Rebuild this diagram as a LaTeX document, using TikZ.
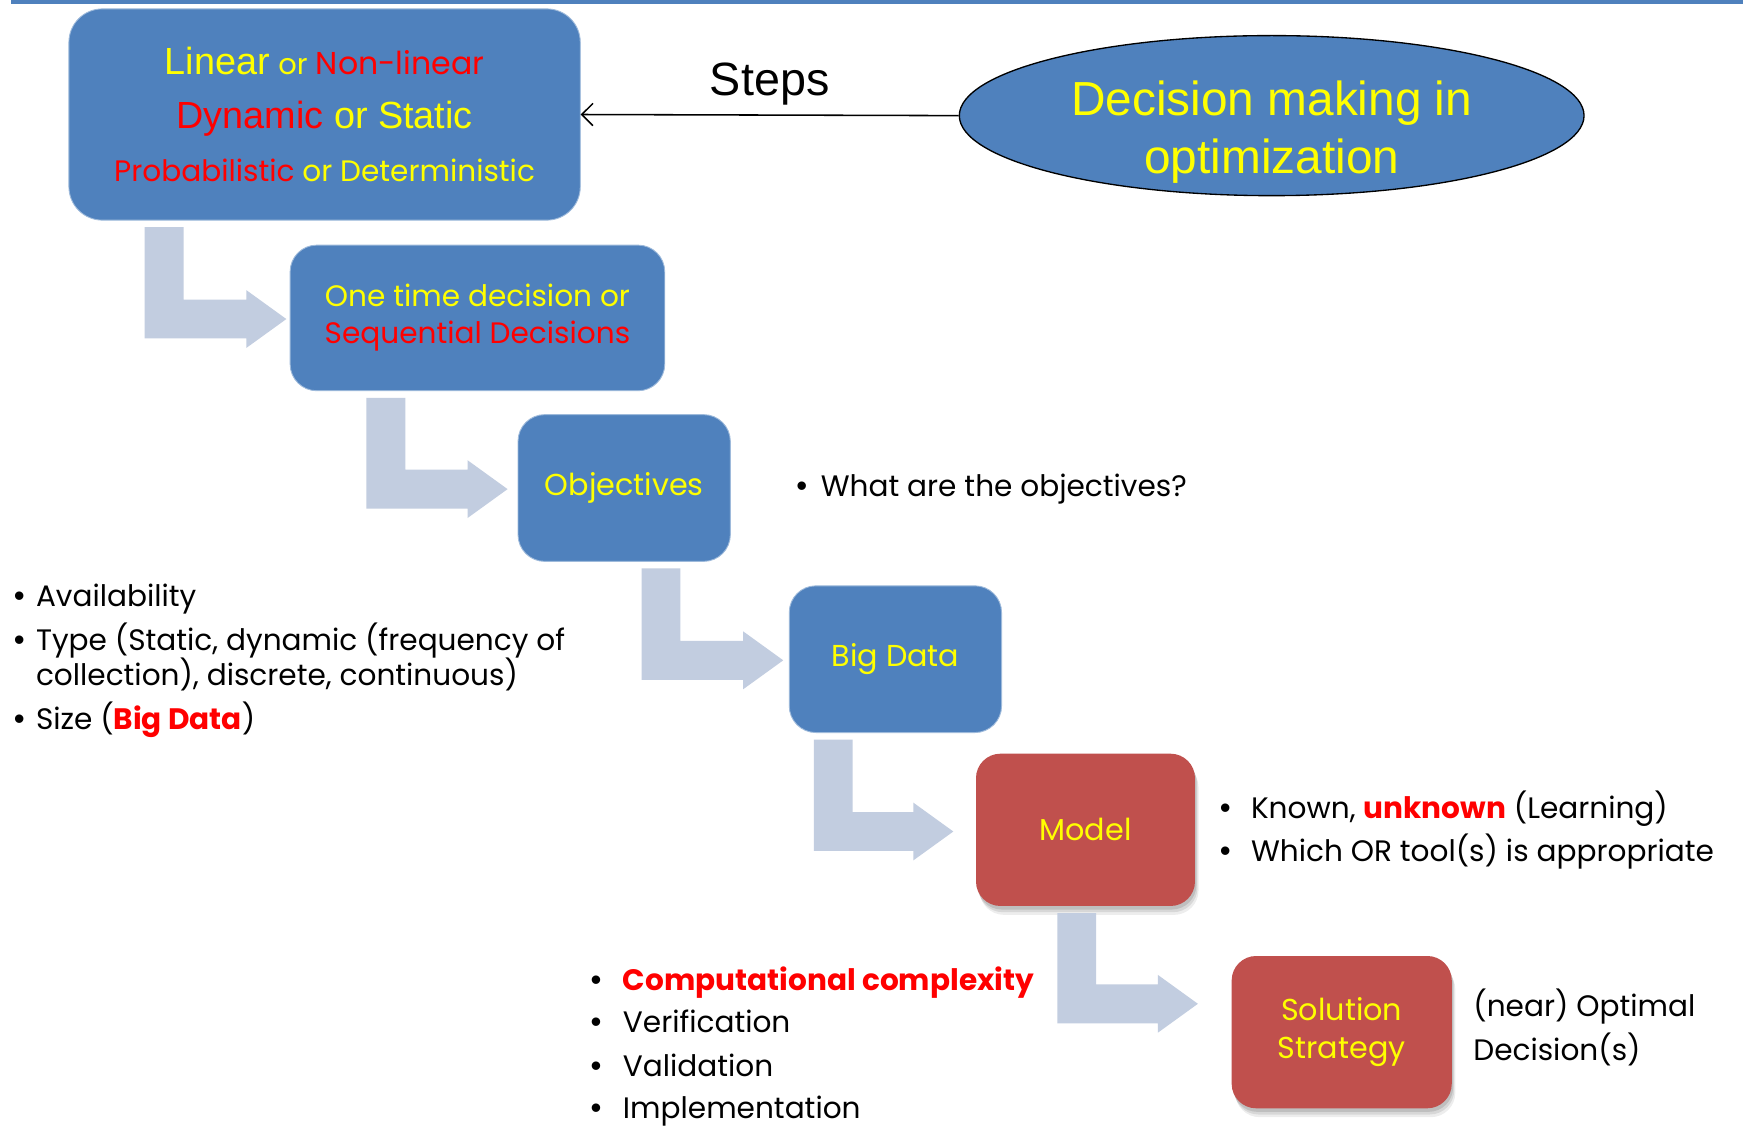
\documentclass[tikz,border=0pt]{standalone}
\usepackage{fontspec}
\setmainfont{Poppins}
\newfontfamily\arialfont{Liberation Sans}
\usetikzlibrary{shapes.geometric,arrows.meta,calc}

\definecolor{boxblue}{HTML}{4F81BD}
\definecolor{boxred}{HTML}{C0504D}
\definecolor{flowgray}{HTML}{C2CDE0}
\definecolor{txtyellow}{HTML}{FFFF00}
\definecolor{txtred}{HTML}{FF0000}

\newcommand\fsz[2]{\fontsize{#1}{#2}\selectfont}
% list bullet, slightly heavier than the text font's own
\newcommand\itemdot[1]{\makebox[#1][l]{\arialfont\fsz{14}{16}•}}

\tikzset{
  bluebox/.style={fill=boxblue, draw=boxblue!55!white, line width=0.4pt,
    rounded corners=12pt, align=center, inner sep=0pt},
  redbox/.style={fill=boxred, draw=none, rounded corners=11pt, align=center,
    inner sep=0pt,
    preaction={fill=black, opacity=0.07, transform canvas={xshift=1.6pt, yshift=-4pt}},
    preaction={fill=black, opacity=0.09, transform canvas={xshift=1.1pt, yshift=-2.8pt}},
    preaction={fill=black, opacity=0.11, transform canvas={xshift=0.6pt, yshift=-1.6pt}}},
  flow/.style={fill=flowgray, draw=none},
  boxtext/.style={font=\fsz{13.6}{17}},
  note/.style={anchor=base west, inner sep=0pt, font=\fsz{13.3}{16}},
}

% L-shaped block arrow: down from the source box, then right to the target box
% #1 source, #2 target, #3 stem x offset from source south west,
% #4 gap before target, #5 vertical offset of the tip from the target centre
\newcommand\bentflow[5]{%
  \coordinate (#1-stem) at ($(#1.south west)+(#3,6)$);
  \coordinate (#1-tip) at ($(#2.west)+(-#4,#5)$);
  \fill[flow] let \p1=(#1-stem), \p2=(#1-tip) in
    (\x1-8.75pt,\y1) -- (\x1+8.75pt,\y1) -- (\x1+8.75pt,\y2+8.75pt)
    -- (\x2-18pt,\y2+8.75pt) -- (\x2-18pt,\y2+13pt) -- (\x2,\y2)
    -- (\x2-18pt,\y2-13pt) -- (\x2-18pt,\y2-8.75pt)
    -- (\x1-8.75pt,\y2-8.75pt) -- cycle;
}

\begin{document}
\begin{tikzpicture}[x=0.5pt,y=-0.5pt]
  \useasboundingbox (0,0) rectangle (1568,1014);
  \fill[white] (0,0) rectangle (1568,1014);
  % rule along the top edge
  \fill[boxblue] (10,0) rectangle (1568,3.5);

  % boxes of the chain
  \node[bluebox, minimum width=230pt, minimum height=95pt, rounded corners=15pt,
        font=\fsz{14}{24}] (box1) at (292,103)
    {{\arialfont\fsz{17}{24}\color{txtyellow}Linear} {\fsz{13}{24}\color{txtyellow}or}
     {\fsz{14.2}{24}\color{txtred}Non-linear}\\
     {\arialfont\fsz{17}{24}\color{txtred}Dynamic \color{txtyellow}or Static}\\
     {\fsz{13.3}{24}\color{txtred}Probabilistic \color{txtyellow}or Deterministic}};

  \node[bluebox, boxtext, minimum width=168.5pt, minimum height=65.5pt,
        font=\fsz{13.3}{16.5}] (box2) at (429.5,286)
    {\color{txtyellow}One time decision or\\\color{txtred}Sequential Decisions};

  \node[bluebox, boxtext, minimum width=95.5pt, minimum height=66pt,
        text=txtyellow] (box3) at (561.5,439) {\raisebox{-1.5pt}{Objectives}};

  \node[bluebox, boxtext, minimum width=95.5pt, minimum height=66pt,
        text=txtyellow] (box4) at (805.5,593) {\raisebox{-1.5pt}{Big Data}};

  \node[redbox, boxtext, minimum width=98.5pt, minimum height=68.5pt,
        text=txtyellow] (box5) at (976.5,746.5) {Model};

  \node[redbox, boxtext, minimum width=99pt, minimum height=68.5pt,
        text=txtyellow] (box6) at (1207,928.5) {Solution\\Strategy};

  % title ellipse and the arrow into the first step
  \node[ellipse, fill=boxblue, draw=black, line width=0.6pt, minimum width=281pt,
        minimum height=72pt, inner sep=0pt,
        label={[yshift=-7.5pt, align=center, font=\arialfont\fsz{21.5}{26},
                text=txtyellow]center:Decision making in\\optimization}]
    (goal) at (1144,104) {};

  \draw[line width=0.7pt, -{Straight Barb[length=5pt,width=10pt]}]
    (goal.west) -- (box1.east)
    node[midway, anchor=base, yshift=9pt, inner sep=0pt,
         font=\arialfont\fsz{21}{24}] (steps) {Steps};

  % block arrows between the steps
  \bentflow{box1}{box2}{86}{3}{1}
  \bentflow{box2}{box3}{86.5}{9}{1}
  \bentflow{box3}{box4}{129}{5}{1}
  \bentflow{box4}{box5}{40}{20}{1.5}
  \bentflow{box5}{box6}{91}{30}{-25.5}

  % side notes
  \node[note] (objq) at (716,447) {\itemdot{11pt}What are the objectives?};

  \node[note] (data1) at (12,546) {\itemdot{10pt}Availability};
  \node[note] (data2) at (12,585) {\itemdot{10pt}Type (Static, dynamic (frequency of};
  \node[note] (data3) at (32,617) {collection), discrete, continuous)};
  \node[note] (data4) at (12,656)
    {\itemdot{10pt}Size ({\bfseries\color{txtred}Big Data})};

  \node[note] (mod1) at (1097,736)
    {\itemdot{14pt}Known, {\bfseries\color{txtred}unknown} (Learning)};
  \node[note] (mod2) at (1097,775)
    {\itemdot{14pt}Which OR tool(s) is appropriate};

  \node[note] (sol1) at (531,891)
    {\itemdot{14.5pt}{\bfseries\color{txtred}Computational complexity}};
  \node[note] (sol2) at (531,929) {\itemdot{14.5pt}Verification};
  \node[note] (sol3) at (531,968) {\itemdot{14.5pt}Validation};
  \node[note] (sol4) at (531,1006) {\itemdot{14.5pt}Implementation};

  \node[note] (out1) at (1325,914) {(near) Optimal};
  \node[note] (out2) at (1325,954) {Decision(s)};
\end{tikzpicture}
\end{document}
